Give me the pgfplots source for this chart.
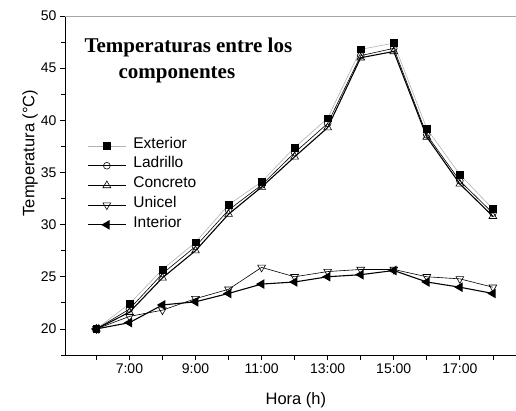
\documentclass[border=0pt]{standalone}
\usepackage{pgfplots}
\pgfplotsset{compat=1.18}
\usepackage{fontspec}
\setmainfont{Liberation Sans}
\newfontfamily\titlefont{Liberation Serif}
\newcommand\lgfont{\fontsize{15.5}{17}\selectfont}

\begin{document}
\begin{tikzpicture}
\path[use as bounding box] (-65pt,-55pt) rectangle (451pt,355pt);
\begin{axis}[
    at={(0pt,0pt)}, anchor=south west,
    scale only axis, width=451pt, height=339pt,
    xmin=5.05, xmax=18.7,
    ymin=17.5, ymax=50,
    axis x line*=bottom, axis y line*=left,
    axis line style={line width=0.8pt},
    tick align=outside,
    major tick length=5pt, minor tick length=3.5pt,
    tick style={black, line width=0.7pt},
    xtick={6,...,18},
    xticklabels={,7:00,,9:00,,11:00,,13:00,,15:00,,17:00,},
    ytick={20,25,...,50},
    minor ytick={17.5,22.5,...,47.5},
    /pgf/number format/assume math mode=true,
    tick label style={font=\fontsize{14}{16}\selectfont},
    xlabel={Hora (h)},
    ylabel={Temperatura (°C)},
    label style={font=\fontsize{16.5}{19}\selectfont},
    xlabel style={at={(axis description cs:0.512,0)}, anchor=base, yshift=-49pt},
    ylabel style={at={(axis description cs:-0.0776,0.596)}, anchor=center},
    legend cell align=left,
    legend style={at={(axis description cs:0.049,0.646)}, anchor=north west,
        draw=none, fill=none, inner sep=0pt, column sep=7pt, row sep=0pt,
        font=\lgfont,
        nodes={inner sep=0pt, text height=12pt, text depth=7.7pt}},
    legend image code/.code={
        \draw[mark repeat=2, mark phase=2, #1] plot coordinates {(0pt,0pt) (19pt,0pt) (38pt,0pt)};},
]
\draw[gray!70, line width=0.8pt] (rel axis cs:0,1) -- (rel axis cs:1,1);

\addplot[color=gray!60, line width=0.6pt, mark=square*,
    mark options={black, fill=black, solid}, mark size=3.4pt]
    coordinates {
    (6,20.0)(7,22.4)(8,25.7)(9,28.3)(10,31.9)(11,34.1)(12,37.4)
    (13,40.2)(14,46.8)(15,47.4)(16,39.2)(17,34.8)(18,31.5)
    };
\addlegendentry{\lgfont Exterior}

\addplot[color=black, line width=0.6pt, mark=o,
    mark options={fill=white}, mark size=3.4pt]
    coordinates {
    (6,20.0)(7,21.9)(8,25.3)(9,27.9)(10,31.4)(11,33.8)(12,36.9)
    (13,39.7)(14,46.2)(15,46.9)(16,38.6)(17,34.2)(18,31.1)
    };
\addlegendentry{\lgfont Ladrillo}

\addplot[color=black, line width=1.1pt, mark=triangle,
    mark options={fill=white, line width=0.6pt}, mark size=4.5pt]
    coordinates {
    (6,20.0)(7,21.6)(8,24.9)(9,27.5)(10,31.0)(11,33.6)(12,36.5)
    (13,39.3)(14,46.0)(15,46.6)(16,38.4)(17,33.9)(18,30.8)
    };
\addlegendentry{\lgfont Concreto}

\addplot[color=black, line width=0.6pt, mark=triangle,
    mark options={fill=white, rotate=180}, mark size=4.5pt]
    coordinates {
    (6,20.0)(7,21.2)(8,21.8)(9,22.9)(10,23.8)(11,25.9)(12,25.0)
    (13,25.5)(14,25.7)(15,25.7)(16,25.0)(17,24.8)(18,24.0)
    };
\addlegendentry{\lgfont Unicel}

\addplot[color=black, line width=1.1pt, mark=triangle*,
    mark options={fill=black, rotate=90}, mark size=4.5pt]
    coordinates {
    (6,20.0)(7,20.6)(8,22.3)(9,22.6)(10,23.4)(11,24.3)(12,24.5)
    (13,25.0)(14,25.2)(15,25.6)(16,24.5)(17,24.0)(18,23.4)
    };
\addlegendentry{\lgfont Interior}
\end{axis}
\node[anchor=base west, font=\titlefont\fontsize{21}{24}\selectfont\bfseries]
    at (16pt,302pt) {Temperaturas entre los};
\node[anchor=base west, font=\titlefont\fontsize{21}{24}\selectfont\bfseries]
    at (50pt,276pt) {componentes};
\end{tikzpicture}
\end{document}
